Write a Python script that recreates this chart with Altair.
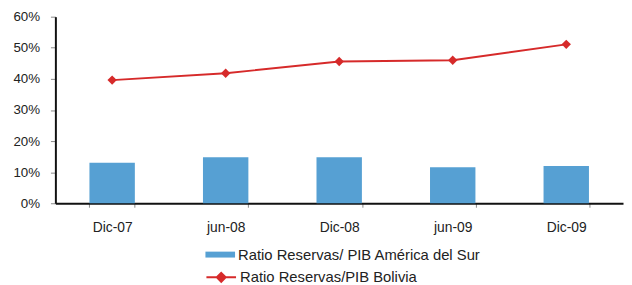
import altair as alt
import pandas as pd

categories = ["Dic-07", "jun-08", "Dic-08", "jun-09", "Dic-09"]
sur_values = [0.130, 0.148, 0.148, 0.116, 0.120]
bol_values = [0.396, 0.418, 0.456, 0.460, 0.511]
bar_name = "Ratio Reservas/ PIB América del Sur"
line_name = "Ratio Reservas/PIB Bolivia"

df = pd.DataFrame({
    "cat": categories,
    "sur": sur_values,
    "bol": bol_values,
    "s1": [bar_name] * len(categories),
    "s2": [line_name] * len(categories),
})

BLUE = "#56A0D3"
RED = "#D62A2A"
FONT = "Liberation Sans"

x = alt.X("cat:N", sort=categories, title=None,
          scale=alt.Scale(paddingInner=0.6, paddingOuter=0.3),
          axis=alt.Axis(labelAngle=0, tickBand="extent", domainColor="#111111",
                        domainWidth=2, tickColor="#888888", tickSize=4,
                        labelPadding=14, labelFontSize=14, labelColor="#222222",
                        labelFont=FONT))
yscale = alt.Scale(domain=[0, 0.6])
yaxis = alt.Axis(format=".0%", values=[0, 0.1, 0.2, 0.3, 0.4, 0.5, 0.6], grid=False,
                 domainColor="#111111", domainWidth=2, tickColor="#888888", tickSize=5,
                 labelPadding=11, labelFontSize=13.5, labelColor="#222222",
                 labelFont=FONT)

bars = alt.Chart(df).mark_bar(color=BLUE).encode(
    x=x,
    y=alt.Y("sur:Q", scale=yscale, axis=yaxis, title=None),
    fill=alt.Fill("s1:N", scale=alt.Scale(range=[BLUE]),
                  legend=alt.Legend(title=None, orient="none", legendX=152, legendY=226,
                                    symbolType="M-1,-0.2L1,-0.2L1,0.2L-1,0.2Z",
                                    symbolSize=900, symbolStrokeWidth=0,
                                    labelFontSize=15, labelFont=FONT, labelLimit=400,
                                    labelColor="#222222", labelOffset=3)),
)

line = alt.Chart(df).mark_line(strokeWidth=2).encode(
    x=x,
    y=alt.Y("bol:Q", scale=yscale, axis=yaxis, title=None),
    stroke=alt.Stroke("s2:N", scale=alt.Scale(range=[RED]),
                      legend=alt.Legend(title=None, orient="none", legendX=152, legendY=248,
                                        symbolType="M-1,0L1,0M0,-0.3L0.3,0L0,0.3L-0.3,0Z",
                                        symbolSize=900, symbolStrokeWidth=2,
                                        symbolFillColor=RED,
                                        labelFontSize=15, labelFont=FONT, labelLimit=400,
                                        labelColor="#222222", labelOffset=3)),
)

points = alt.Chart(df).mark_point(shape="diamond", filled=True, size=90, color=RED, opacity=1).encode(
    x=x,
    y=alt.Y("bol:Q", scale=yscale, axis=yaxis, title=None),
)

chart = alt.layer(bars, line, points).resolve_scale(
    fill="independent", stroke="independent"
).properties(
    width=575, height=189,
    autosize=alt.AutoSizeParams(type="none"),
    padding={"left": 48, "top": 7, "right": 1, "bottom": 81},
).configure_view(stroke=None)

chart.save("out.html", embed_options={"renderer": "svg", "actions": False})
